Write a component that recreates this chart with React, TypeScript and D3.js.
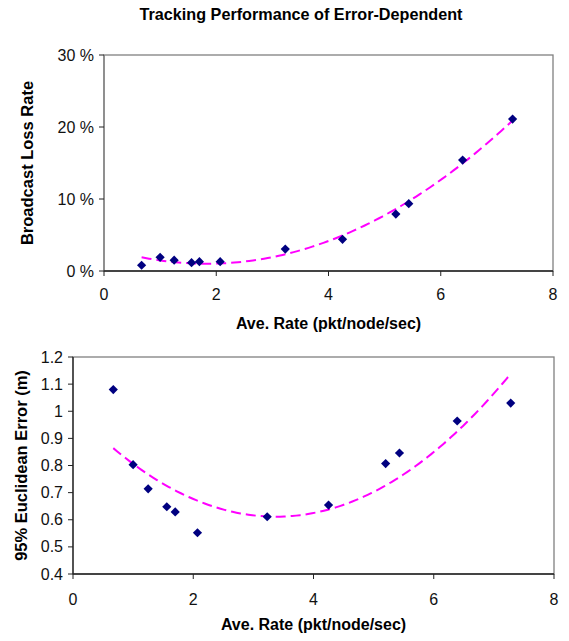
import * as d3 from 'd3';

// Average rate (pkt/node/sec) for each run
const rates = [0.67, 1.0, 1.25, 1.56, 1.7, 2.07, 3.23, 4.25, 5.2, 5.43, 6.39, 7.28];
// broadcast loss rate (%)
const lossRates = [0.8, 1.9, 1.5, 1.15, 1.3, 1.3, 3.05, 4.4, 7.9, 9.35, 15.4, 21.1];
// 95% euclidean error (m)
const errors = [1.08, 0.803, 0.714, 0.648, 0.629, 0.552, 0.611, 0.654, 0.807, 0.846, 0.964, 1.03];

const lossTicks = [0, 10, 20, 30];
const errorTicks = [0.4, 0.5, 0.6, 0.7, 0.8, 0.9, 1, 1.1, 1.2];
const rateTicks = [0, 2, 4, 6, 8];

const FONT = "'Liberation Sans', Arial, sans-serif";

// 2nd order polynomial trendline (least squares), like the spreadsheet one
function polyFit(xs: number[], ys: number[]) {
	const s = [0, 0, 0, 0, 0];
	const t = [0, 0, 0];
	xs.forEach((x, i) => {
		for (let k = 0; k < 5; k++) s[k] += x ** k;
		for (let k = 0; k < 3; k++) t[k] += ys[i] * x ** k;
	});
	const m = [
		[s[0], s[1], s[2]],
		[s[1], s[2], s[3]],
		[s[2], s[3], s[4]],
	];
	const det = (a: number[][]) =>
		a[0][0] * (a[1][1] * a[2][2] - a[1][2] * a[2][1]) -
		a[0][1] * (a[1][0] * a[2][2] - a[1][2] * a[2][0]) +
		a[0][2] * (a[1][0] * a[2][1] - a[1][1] * a[2][0]);
	const D = det(m);
	const coef = [0, 1, 2].map((c) => det(m.map((row, r) => row.map((v, j) => (j === c ? t[r] : v)))) / D);
	return (x: number) => coef[0] + coef[1] * x + coef[2] * x * x;
}

function diamond(cx: number, cy: number, r = 4.6) {
	return `M${cx},${cy - r}L${cx + r},${cy}L${cx},${cy + r}L${cx - r},${cy}Z`;
}

type PanelProps = {
	ys: number[];
	yTicks: number[];
	yFmt: (v: number) => string;
	yLabel: string;
	left: number;
	right: number;
	top: number;
	bottom: number;
	leftAxisColor: string;
	yLabelX: number;
	tickLabelY: number;
	titleY: number;
};

function Panel(p: PanelProps) {
	const x = d3.scaleLinear().domain([0, 8]).range([p.left, p.right]);
	const y = d3
		.scaleLinear()
		.domain([p.yTicks[0], p.yTicks[p.yTicks.length - 1]])
		.range([p.bottom, p.top]);

	const fit = polyFit(rates, p.ys);
	const trendXs = d3.range(0, 101).map((i) => rates[0] + ((rates[rates.length - 1] - rates[0]) * i) / 100);
	const trend = d3
		.line<number>()
		.x((d) => x(d))
		.y((d) => y(fit(d)))(trendXs);

	const midY = (p.top + p.bottom) / 2;
	const midX = (p.left + p.right) / 2;

	return (
		<g fontFamily={FONT}>
			{/* frame */}
			<rect
				x={p.left}
				y={p.top}
				width={p.right - p.left}
				height={p.bottom - p.top}
				fill='none'
				stroke='#808080'
				strokeWidth={1.3}
			/>
			<line x1={p.left} x2={p.left} y1={p.top} y2={p.bottom} stroke={p.leftAxisColor} strokeWidth={1.3} />
			<line x1={p.left} x2={p.right} y1={p.bottom} y2={p.bottom} stroke='#222' strokeWidth={1.3} />

			{/* y ticks */}
			{p.yTicks.map((t) => (
				<g key={t}>
					<line x1={p.left - 5} x2={p.left} y1={y(t)} y2={y(t)} stroke='#222' />
					<text x={p.left - 10} y={y(t)} dy='0.35em' textAnchor='end' fontSize={16} fill='#111'>
						{p.yFmt(t)}
					</text>
				</g>
			))}

			{/* x ticks */}
			{rateTicks.map((t) => (
				<g key={t}>
					<line x1={x(t)} x2={x(t)} y1={p.bottom} y2={p.bottom + 5} stroke='#222' />
					<text x={x(t)} y={p.tickLabelY} textAnchor='middle' fontSize={16} fill='#111'>
						{t}
					</text>
				</g>
			))}

			{/* trendline */}
			<path d={trend ?? ''} fill='none' stroke='#ff00ff' strokeWidth={2} strokeDasharray='10 5' />

			{/* points */}
			{rates.map((r, i) => (
				<path key={i} d={diamond(x(r), y(p.ys[i]))} fill='#000080' />
			))}

			{/* axis titles */}
			<text x={midX} y={p.titleY} textAnchor='middle' fontSize={16} fontWeight='bold' fill='#000'>
				Ave. Rate (pkt/node/sec)
			</text>
			<text
				transform={`translate(${p.yLabelX},${midY}) rotate(-90)`}
				textAnchor='middle'
				fontSize={16.5}
				fontWeight='bold'
				fill='#000'
			>
				{p.yLabel}
			</text>
		</g>
	);
}

export default function App() {
	const width = 569;
	const height = 641;

	return (
		<svg
			width={width}
			height={height}
			style={{ position: 'absolute', left: 0, top: 0, background: '#fff' }}
		>
			<text
				x={301}
				y={20}
				textAnchor='middle'
				fontFamily={FONT}
				fontSize={16.2}
				fontWeight='bold'
			>
				Tracking Performance of Error-Dependent
			</text>

			<Panel
				ys={lossRates}
				yTicks={lossTicks}
				yFmt={(v) => `${v} %`}
				yLabel='Broadcast Loss Rate'
				left={104}
				right={553}
				top={55}
				bottom={271}
				leftAxisColor='#808080'
				yLabelX={33}
				tickLabelY={300}
				titleY={329}
			/>

			<Panel
				ys={errors}
				yTicks={errorTicks}
				yFmt={(v) => `${v}`}
				yLabel='95% Euclidean Error (m)'
				left={73}
				right={554}
				top={357}
				bottom={574}
				leftAxisColor='#222'
				yLabelX={27}
				tickLabelY={605}
				titleY={630}
			/>
		</svg>
	);
}
